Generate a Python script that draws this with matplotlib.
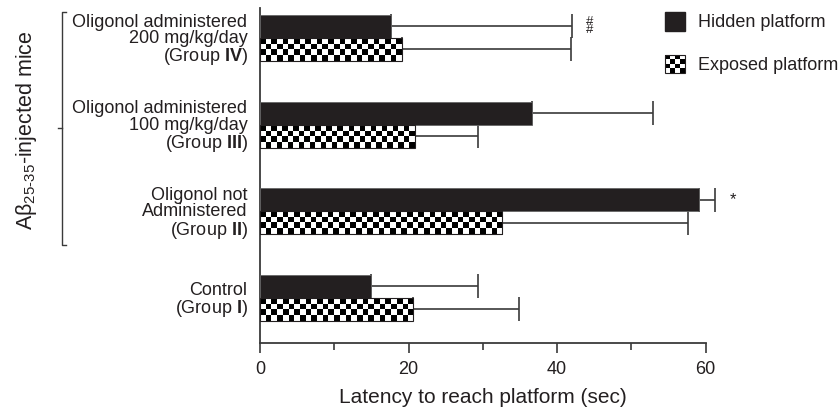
import numpy as np
import matplotlib
matplotlib.use("Agg")
import matplotlib.pyplot as plt
from matplotlib.patches import Rectangle

plt.rcParams['font.family'] = ['Liberation Sans', 'DejaVu Sans']
plt.rcParams['mathtext.fontset'] = 'custom'
plt.rcParams['mathtext.rm'] = 'Liberation Sans'
plt.rcParams['mathtext.it'] = 'Liberation Sans:italic'
plt.rcParams['mathtext.bf'] = 'Liberation Sans:bold'

# groups from bottom to top
groups = ["Control\n(Group $\\mathbf{I}$)",
          "Oligonol not\nAdministered\n(Group $\\mathbf{II}$)",
          "Oligonol administered\n100 mg/kg/day\n(Group $\\mathbf{III}$)",
          "Oligonol administered\n200 mg/kg/day\n(Group $\\mathbf{IV}$)"]
hidden = [14.9, 59.1, 36.6, 17.7]
hidden_err = [14.4, 2.2, 16.3, 24.3]
exposed = [20.6, 32.6, 20.8, 19.1]
exposed_err = [14.2, 25.0, 8.5, 22.7]
marks = ["", "*", "", "#\n#"]
xticks = [0, 20, 40, 60]
minor_ticks = [10, 30, 50]

ink = '#231f20'
grey = '#3a3a3a'

fig = plt.figure(figsize=(8.4, 4.12), dpi=100)
W, H = 840, 412
# axes placed in pixel units
ax = fig.add_axes([260 / W, 1 - 343 / H, 468 / W, 335 / H])
ax.patch.set_alpha(0)

y = np.arange(len(groups))
h = 0.265

hb = ax.barh(y + h / 2, hidden, height=h, color=ink, edgecolor='#666666',
             linewidth=0.6, zorder=3)
eb = ax.barh(y - h / 2, exposed, height=h, facecolor='none', edgecolor=ink,
             linewidth=0.8, zorder=3)
ax.errorbar(hidden, y + h / 2, xerr=[np.zeros(len(hidden)), hidden_err],
            fmt='none', ecolor=grey, elinewidth=1.2, capsize=8.5, capthick=1.2,
            zorder=2, clip_on=False)
ax.errorbar(exposed, y - h / 2, xerr=[np.zeros(len(exposed)), exposed_err],
            fmt='none', ecolor=grey, elinewidth=1.2, capsize=8.5, capthick=1.2,
            zorder=2, clip_on=False)

ax.set_xlim(0, 63)
ax.set_ylim(-0.52, 3.345)

# checkerboard fill for exposed platform bars
cell = 5.6
for bar in eb:
    x0, y0 = bar.get_x(), bar.get_y()
    x1, y1 = x0 + bar.get_width(), y0 + bar.get_height()
    p0 = ax.transData.transform((x0, y0))
    p1 = ax.transData.transform((x1, y1))
    nc = max(1, int(round(abs(p1[0] - p0[0]) / cell)))
    nr = max(1, int(round(abs(p1[1] - p0[1]) / cell)))
    board = (np.add.outer(np.arange(nr), np.arange(nc)) % 2).astype(float)
    ax.imshow(board, cmap='gray', extent=[x0, x1, y0, y1], aspect='auto',
              interpolation='nearest', vmin=0, vmax=1, zorder=2.5)
ax.set_xlim(0, 63)
ax.set_ylim(-0.52, 3.345)

for yi, val, err, m in zip(y, hidden, hidden_err, marks):
    if m:
        ax.text(val + err + 2.4, yi + h / 2, m, ha='center', va='center',
                fontsize=9.5 if '#' in m else 12, linespacing=0.55, color=ink)

ax.spines['top'].set_visible(False)
ax.spines['right'].set_visible(False)
ax.spines['bottom'].set_bounds(0, 60)
for s in ('left', 'bottom'):
    ax.spines[s].set_color(grey)
    ax.spines[s].set_linewidth(1.3)

ax.set_xticks(xticks)
ax.set_xticks(minor_ticks, minor=True)
ax.tick_params(axis='x', which='major', length=7, width=1.2, color=grey,
               labelsize=13, labelcolor=ink, pad=6)
ax.tick_params(axis='x', which='minor', length=5, width=1.2, color=grey)
ax.set_yticks(y)
ax.set_yticklabels(groups, fontsize=13, color=ink, linespacing=0.95, ha='right')
ax.tick_params(axis='y', length=0, pad=9)
ax.set_xlabel("Latency to reach platform (sec)", fontsize=15, color=ink)
ax.xaxis.set_label_coords(30 / 63, -0.135)

# overlay in pixel coordinates for the legend and bracket
ov = fig.add_axes([0, 0, 1, 1], zorder=5)
ov.patch.set_alpha(0)
ov.set_xlim(0, W)
ov.set_ylim(H, 0)
ov.axis('off')

ov.add_patch(Rectangle((665, 12), 20, 19, color=ink))
lb = (np.add.outer(np.arange(4), np.arange(4)) % 2).astype(float)
ov.imshow(lb, cmap='gray', extent=[665, 685, 73, 55], aspect='auto',
          interpolation='nearest', vmin=0, vmax=1)
ov.add_patch(Rectangle((665, 55), 20, 18, fill=False, edgecolor=ink, lw=0.8))
ov.set_xlim(0, W)
ov.set_ylim(H, 0)
ov.text(698, 22, "Hidden platform", fontsize=13, va='center', color=ink)
ov.text(698, 65, "Exposed platform", fontsize=13, va='center', color=ink)

ov.plot([66, 62, 62, 66], [12, 12, 245, 245], color=grey, lw=1.0)
ov.plot([58, 62], [128, 128], color=grey, lw=1.0)
ov.text(27, 130, "A$\\mathregular{\\beta_{25\\text{-}35}}$-injected mice",
        rotation=90, ha='center', va='center', fontsize=15.5, color=ink)

fig.savefig("out.png", dpi=100)
